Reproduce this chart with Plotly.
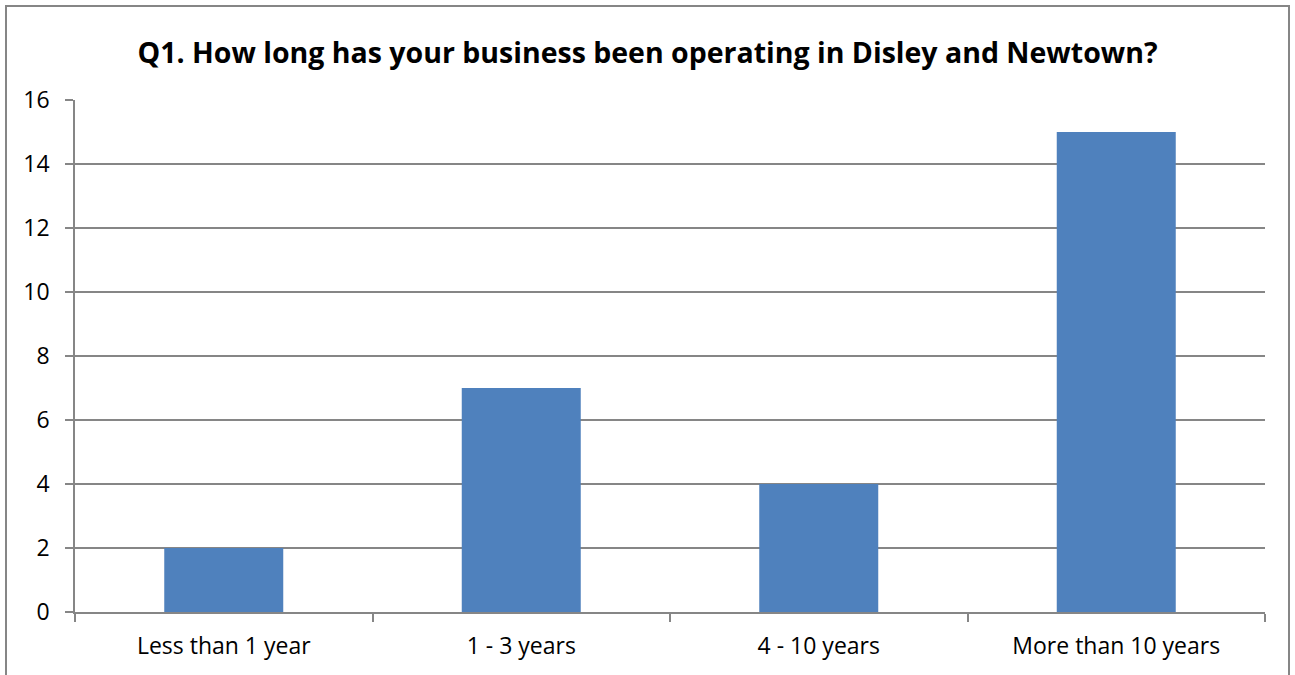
import plotly.graph_objects as go

categories = ["Less than 1 year", "1 - 3 years", "4 - 10 years", "More than 10 years"]
values = [2, 7, 4, 15]
title_text = "Q1. How long has your business been operating in Disley and Newtown?"

W, H = 1295, 675
L, R, T, B = 75, 30, 100, 63
pw, ph = W - L - R, H - T - B

def px_x(x):
    return (x - L) / pw

def px_y(y):
    return (H - B - y) / ph

font_family = "'Open Sans', Lato, sans-serif"
grid = "#868686"

fig = go.Figure(go.Bar(x=categories, y=values, marker_color="#4F81BD",
                       marker_line_width=0))

fig.update_layout(
    width=W, height=H,
    margin=dict(l=L, r=R, t=T, b=B),
    paper_bgcolor="white", plot_bgcolor="white",
    bargap=0.6,
    showlegend=False,
    title=dict(text="<b>" + title_text + "</b>", x=0.5, xanchor="center",
               y=1 - 53 / H, yanchor="middle",
               font=dict(family=font_family, size=28.5, color="black")),
    font=dict(family=font_family, size=23, color="black"),
)
fig.update_xaxes(showline=True, linecolor=grid, linewidth=1.5,
                 ticks="outside", tickson="boundaries", ticklen=8,
                 tickcolor=grid, tickwidth=1.5, showgrid=False,
                 ticklabelstandoff=13,
                 tickfont=dict(size=23))
fig.update_yaxes(range=[0, 16], dtick=2, showline=True, linecolor=grid,
                 linewidth=1.5, ticks="outside", ticklen=8, tickcolor=grid,
                 tickwidth=1.5, showgrid=True, gridcolor=grid, gridwidth=1.5,
                 zeroline=False, ticklabelstandoff=11,
                 tickfont=dict(size=23))

fig.add_shape(type="rect", xref="paper", yref="paper",
              x0=px_x(6), x1=px_x(1289), y0=px_y(700), y1=px_y(6),
              line=dict(color=grid, width=2), fillcolor="rgba(0,0,0,0)",
              layer="below")

fig.write_html("out.html", config={"displayModeBar": False},
               post_script="document.body.style.margin='0';")
